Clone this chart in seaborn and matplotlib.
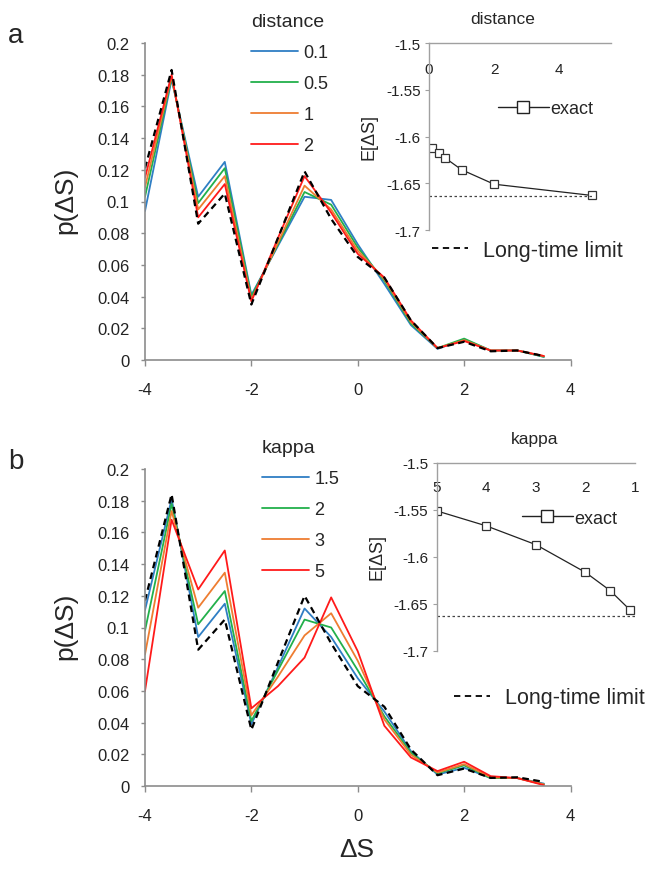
import numpy as np
import pandas as pd
import seaborn as sns
import matplotlib.pyplot as plt
from matplotlib.lines import Line2D

# ---- data ----
dS = [-4, -3.5, -3, -2.5, -2, -1.5, -1, -0.5, 0, 0.5, 1, 1.5, 2, 2.5, 3, 3.5]

dist_levels = ["0.1", "0.5", "1", "2"]
p_dist_01 = [0.094, 0.177, 0.103, 0.125, 0.041, 0.072, 0.103, 0.101, 0.073, 0.048, 0.022, 0.007, 0.013, 0.006, 0.006, 0.002]
p_dist_05 = [0.103, 0.178, 0.099, 0.121, 0.040, 0.073, 0.106, 0.098, 0.071, 0.050, 0.023, 0.0075, 0.0135, 0.006, 0.006, 0.002]
p_dist_1 = [0.109, 0.179, 0.095, 0.116, 0.038, 0.074, 0.110, 0.095, 0.069, 0.051, 0.024, 0.0075, 0.0125, 0.006, 0.006, 0.0025]
p_dist_2 = [0.115, 0.180, 0.090, 0.111, 0.037, 0.077, 0.116, 0.093, 0.067, 0.052, 0.025, 0.0075, 0.012, 0.006, 0.006, 0.0025]
p_limit_a = [0.121, 0.183, 0.086, 0.105, 0.035, 0.077, 0.119, 0.089, 0.065, 0.052, 0.025, 0.0075, 0.0115, 0.0055, 0.006, 0.0025]

kappa_levels = ["1.5", "2", "3", "5"]
p_kap_15 = [0.111, 0.181, 0.094, 0.115, 0.039, 0.075, 0.112, 0.094, 0.068, 0.047, 0.022, 0.0072, 0.0115, 0.005, 0.005, 0.0015]
p_kap_2 = [0.098, 0.178, 0.102, 0.123, 0.041, 0.073, 0.105, 0.100, 0.073, 0.044, 0.021, 0.008, 0.013, 0.005, 0.005, 0.001]
p_kap_3 = [0.083, 0.1735, 0.1125, 0.1346, 0.0446, 0.069, 0.095, 0.109, 0.079, 0.042, 0.0197, 0.0085, 0.0138, 0.0055, 0.005, 0.001]
p_kap_5 = [0.060, 0.168, 0.124, 0.1486, 0.049, 0.063, 0.081, 0.119, 0.085, 0.038, 0.018, 0.0094, 0.0153, 0.0062, 0.005, 0.0005]
p_limit_b = [0.117, 0.184, 0.086, 0.105, 0.0355, 0.078, 0.120, 0.090, 0.063, 0.050, 0.023, 0.0068, 0.011, 0.0051, 0.0055, 0.0026]

# inset data: mean entropy change
inset_dist_x = [0.1, 0.3, 0.5, 1, 2, 5]
inset_dist_E = [-1.612, -1.618, -1.623, -1.6355, -1.651, -1.663]
inset_kap_x = [5, 4, 3, 2, 1.5, 1.1]
inset_kap_E = [-1.551, -1.567, -1.587, -1.6165, -1.636, -1.6566]
E_limit = -1.6633

main_xticks = [-4, -2, 0, 2, 4]
main_yticks = [0, 0.02, 0.04, 0.06, 0.08, 0.1, 0.12, 0.14, 0.16, 0.18, 0.2]
main_ylabels = ["0", "0.02", "0.04", "0.06", "0.08", "0.1", "0.12", "0.14", "0.16", "0.18", "0.2"]
inset_yticks = [-1.7, -1.65, -1.6, -1.55, -1.5]
inset_ylabels = ["-1.7", "-1.65", "-1.6", "-1.55", "-1.5"]

colors = ["#2f7ec4", "#22b04b", "#ee7d31", "#ff1a1a"]

sns.set_style("white")
plt.rcParams["font.family"] = ["Liberation Sans", "DejaVu Sans"]

W, H = 648, 879
fig = plt.figure(figsize=(W / 100, H / 100), dpi=100)


def fx(px):
    return px / W


def fy(py):
    return 1 - py / H


def long_df(levels, series):
    rows = []
    for lev, vals in zip(levels, series):
        rows.append(pd.DataFrame({"dS": dS, "p": vals, "level": lev}))
    return pd.concat(rows, ignore_index=True)


def style_main(ax):
    ax.set_xlim(-4, 4)
    ax.set_ylim(0, 0.2)
    ax.set_xticks(main_xticks)
    ax.set_xticklabels([str(t) for t in main_xticks])
    ax.set_yticks(main_yticks)
    ax.set_yticklabels(main_ylabels)
    for s in ["top", "right"]:
        ax.spines[s].set_visible(False)
    for s in ["left", "bottom"]:
        ax.spines[s].set_color("#8c8c8c")
        ax.spines[s].set_linewidth(1.2)
    ax.tick_params(axis="y", length=3, width=1, color="#8c8c8c", pad=8,
                   labelsize=12, labelcolor="#222222", left=True)
    ax.tick_params(axis="x", length=4, width=1, color="#8c8c8c", pad=12,
                   labelsize=12, labelcolor="#222222", bottom=True)
    ax.set_xlabel("")
    ax.set_ylabel("")


def style_inset(ax, xlim, ticks, labelpad):
    ax.set_xlim(*xlim)
    ax.set_ylim(-1.7, -1.5)
    ax.set_xticks(ticks)
    ax.set_xticklabels([str(t) for t in ticks])
    ax.set_yticks(inset_yticks)
    ax.set_yticklabels(inset_ylabels)
    ax.set_facecolor("none")
    for s in ["bottom", "right"]:
        ax.spines[s].set_visible(False)
    for s in ["left", "top"]:
        ax.spines[s].set_color("#a0a0a0")
        ax.spines[s].set_linewidth(1.0)
    ax.tick_params(axis="x", top=True, labeltop=True, bottom=False, labelbottom=False,
                   length=0, pad=labelpad, labelsize=11, labelcolor="#222222")
    ax.tick_params(axis="y", left=True, length=3, width=0.8, color="#a0a0a0",
                   pad=3, labelsize=11, labelcolor="#222222")
    ax.set_xlabel("")
    ax.set_ylabel("")


def draw_panel(top_px, levels, series, limit):
    ax = fig.add_axes([fx(145), fy(top_px + 317), fx(425.5), 317 / H])
    df = long_df(levels, series)
    sns.lineplot(data=df, x="dS", y="p", hue="level", hue_order=levels,
                 palette=colors, lw=1.3, ax=ax)
    sns.lineplot(x=dS, y=limit, color="black", linestyle="--", lw=1.6,
                 dashes=False, ax=ax)
    ax.lines[-1].set_dashes((3, 2))
    style_main(ax)
    return ax


legend_kw = dict(bbox_transform=fig.transFigure, frameon=False, fontsize=13,
                 title_fontsize=14, handlelength=2.6, labelspacing=0.78,
                 borderpad=0, borderaxespad=0, handletextpad=0.3, alignment="left")

# ---------------- panel a ----------------
ax_a = draw_panel(44, dist_levels, [p_dist_01, p_dist_05, p_dist_1, p_dist_2], p_limit_a)
sns.move_legend(ax_a, "upper left", bbox_to_anchor=(fx(251), fy(14)),
                title="distance", **legend_kw)

# ---------------- panel b ----------------
ax_b = draw_panel(470, kappa_levels, [p_kap_15, p_kap_2, p_kap_3, p_kap_5], p_limit_b)
sns.move_legend(ax_b, "upper left", bbox_to_anchor=(fx(262), fy(440)),
                title="kappa", **legend_kw)

# ---------------- insets ----------------
marker_kw = dict(marker="s", markersize=6, markerfacecolor="white",
                 markeredgecolor="#333333", markeredgewidth=0.9)

in_a = fig.add_axes([fx(429), fy(231), fx(182), 187 / H])
sns.lineplot(x=inset_dist_x, y=inset_dist_E, color="#222222", lw=0.9, ax=in_a, **marker_kw)
in_a.plot([0, 5], [E_limit, E_limit], color="#444444", lw=0.9, linestyle=(0, (2, 2)))
style_inset(in_a, (0, 5.6), [0, 2, 4], -24)

in_b = fig.add_axes([fx(436.7), fy(651.7), fx(198.3), 187.7 / H])
sns.lineplot(x=inset_kap_x, y=inset_kap_E, color="#222222", lw=0.9, ax=in_b, **marker_kw)
in_b.plot([5, 1], [E_limit, E_limit], color="#444444", lw=0.9, linestyle=(0, (2, 2)))
style_inset(in_b, (5, 1), [5, 4, 3, 2, 1], -22)

# inset titles and y labels
fig.text(fx(503), fy(20), "distance", fontsize=12.5, ha="center", va="center")
fig.text(fx(535), fy(440), "kappa", fontsize=12.5, ha="center", va="center")
fig.text(fx(369), fy(137), "E[ΔS]", fontsize=13, rotation=90, ha="center", va="center")
fig.text(fx(377), fy(557), "E[ΔS]", fontsize=13, rotation=90, ha="center", va="center")

# "exact" legends
exact_h = [Line2D([], [], color="#222222", lw=1.0, marker="s", markersize=9,
                  markerfacecolor="white", markeredgecolor="#222222")]
single_kw = dict(loc="center left", frameon=False, borderpad=0, borderaxespad=0)
fig.legend(exact_h, ["exact"], bbox_to_anchor=(fx(498), fy(110)), fontsize=13,
           handlelength=2.8, handletextpad=0.1, **single_kw)
fig.legend(exact_h, ["exact"], bbox_to_anchor=(fx(522), fy(519)), fontsize=13,
           handlelength=2.8, handletextpad=0.1, **single_kw)

# "Long-time limit" legends
lim_h = [Line2D([], [], color="black", lw=1.3, dashes=(3.5, 2.5))]
fig.legend(lim_h, ["Long-time limit"], bbox_to_anchor=(fx(432), fy(251)), fontsize=15.5,
           handlelength=1.65, handletextpad=0.7, **single_kw)
fig.legend(lim_h, ["Long-time limit"], bbox_to_anchor=(fx(454), fy(699)), fontsize=15.5,
           handlelength=1.65, handletextpad=0.7, **single_kw)

# axis labels and panel letters
fig.text(fx(65), fy(200), "p(ΔS)", fontsize=19, rotation=90, ha="center", va="center")
fig.text(fx(65), fy(626), "p(ΔS)", fontsize=19, rotation=90, ha="center", va="center")
fig.text(fx(357), fy(850), "ΔS", fontsize=19, ha="center", va="center")
fig.text(fx(8), fy(43), "a", fontsize=20, ha="left", va="baseline")
fig.text(fx(8), fy(469), "b", fontsize=20, ha="left", va="baseline")

fig.savefig("out.png", dpi=100)
